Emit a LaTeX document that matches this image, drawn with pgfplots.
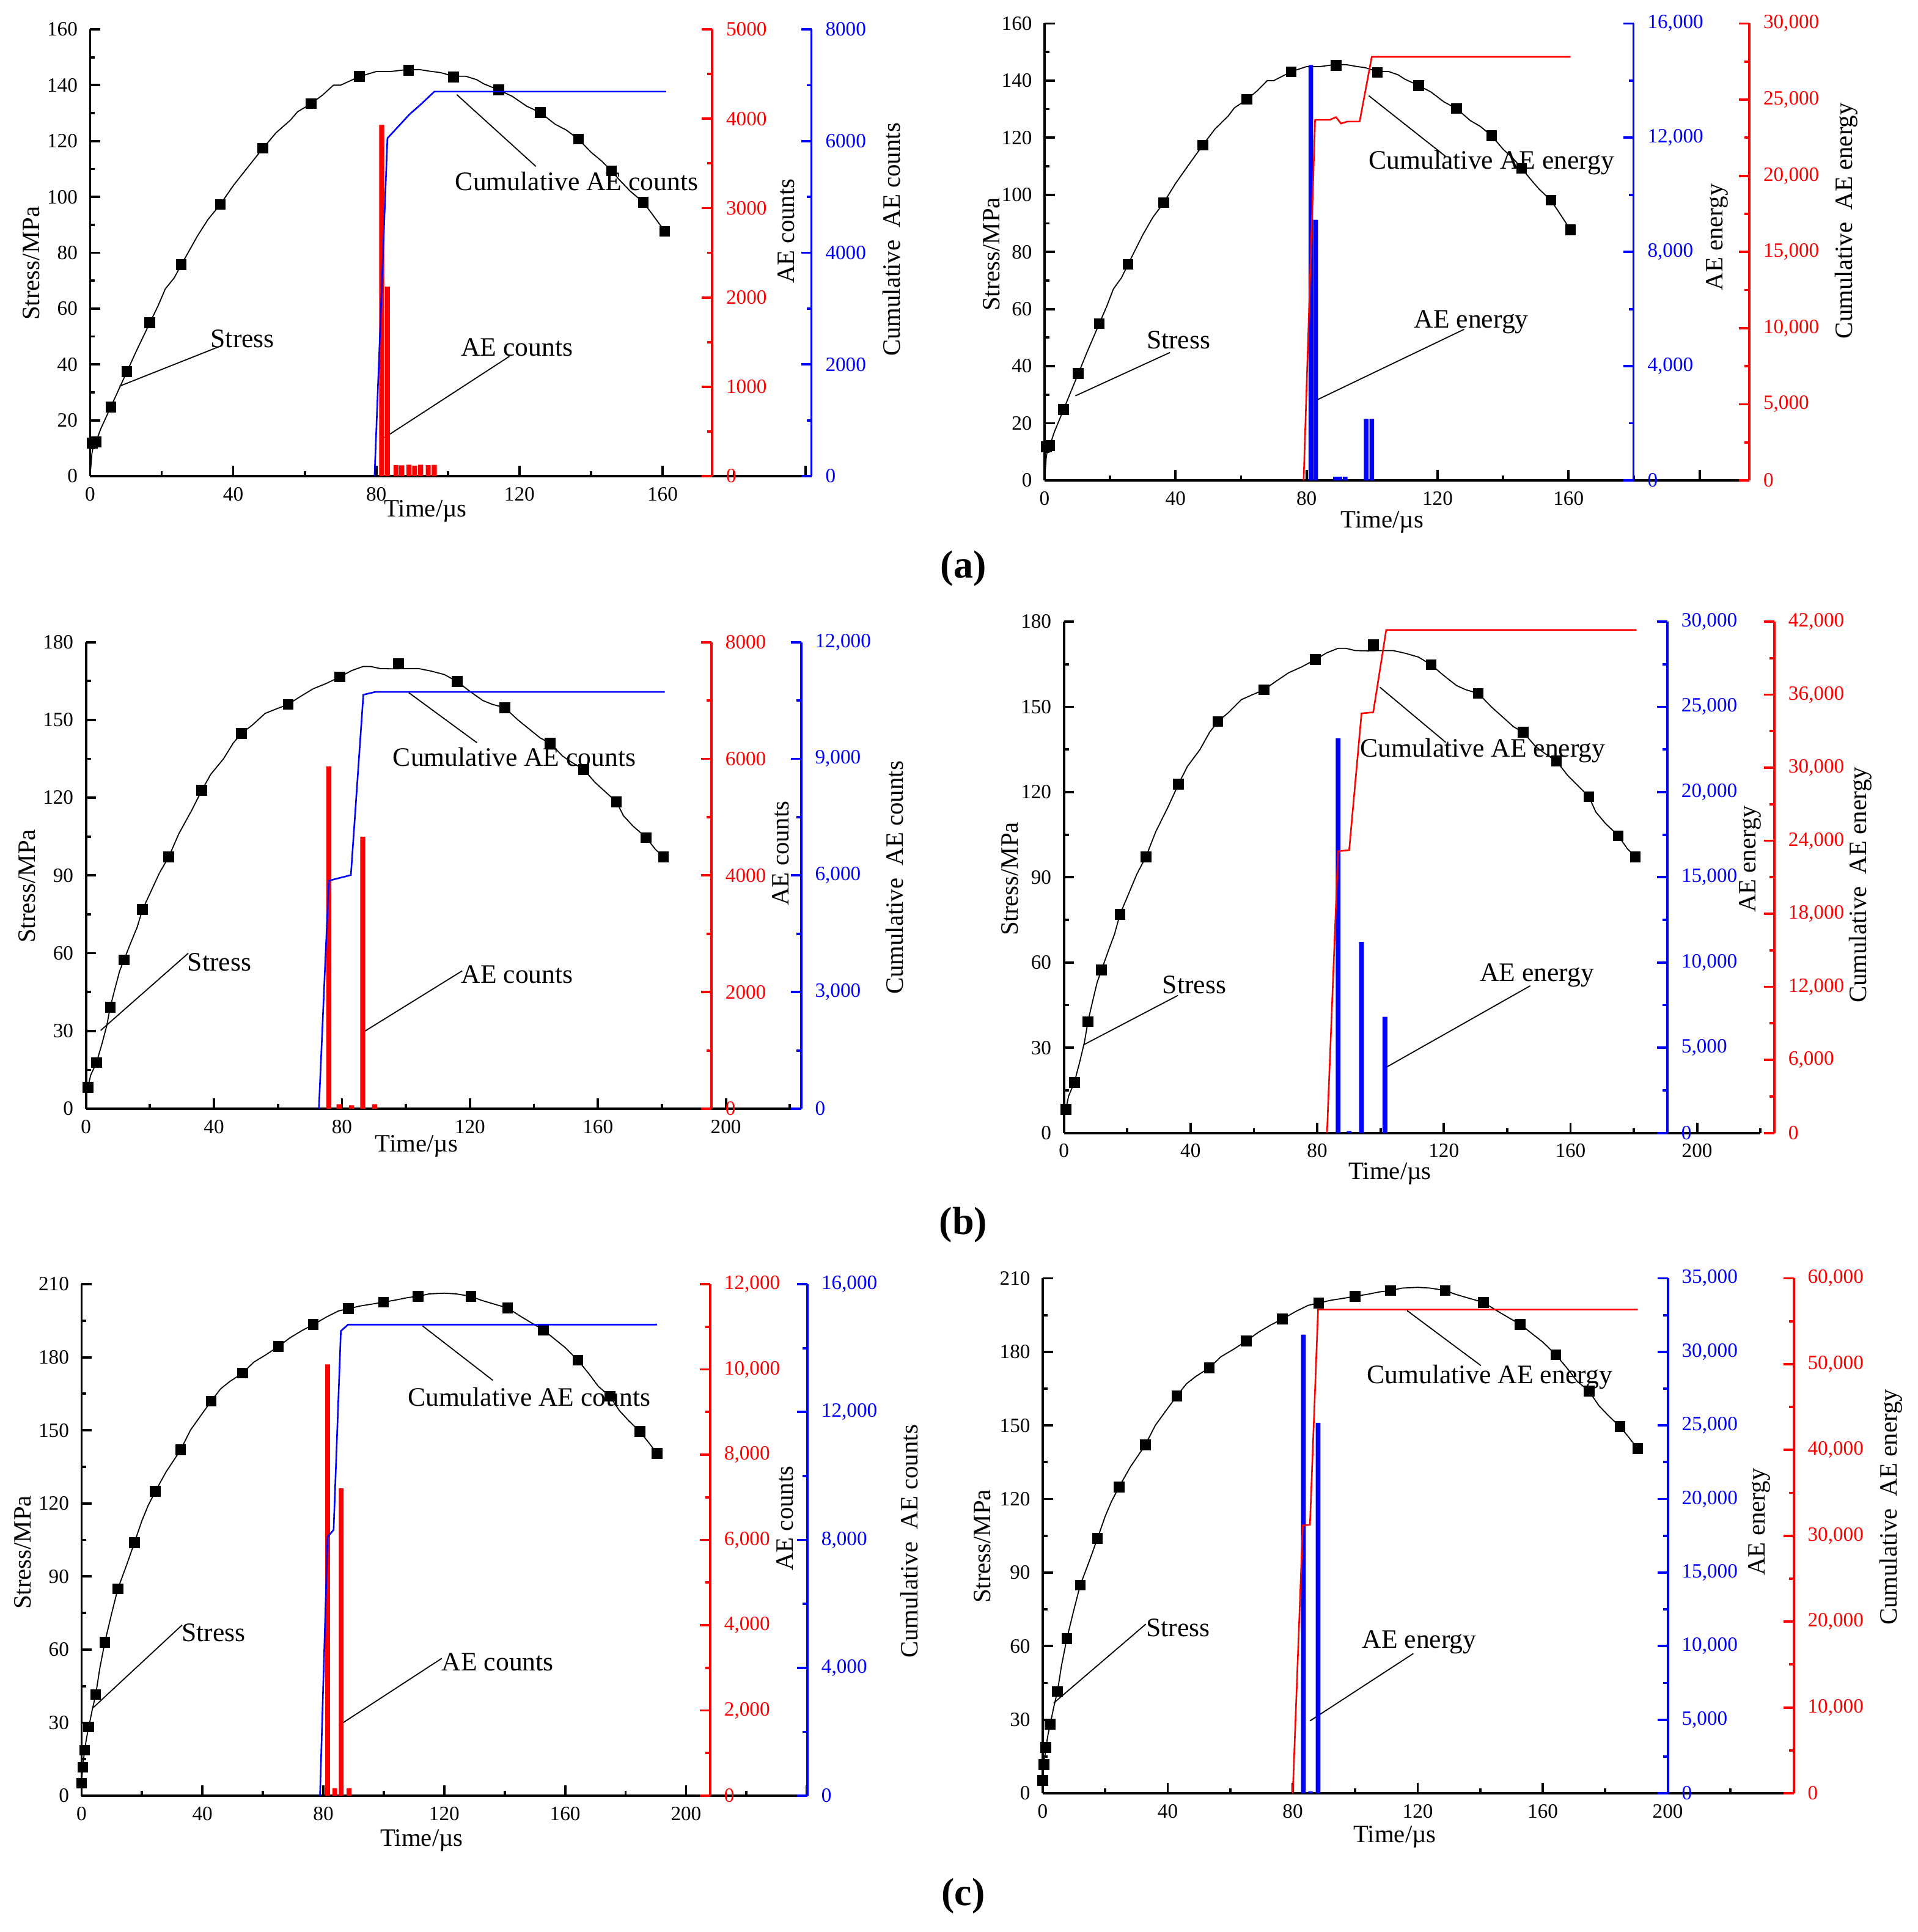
\documentclass[border=0pt]{standalone}
\usepackage{pgfplots}
\pgfplotsset{compat=1.18}
\usepackage{fontspec}
\setmainfont{Liberation Serif}
\newcommand\tf{\fontsize{8.3}{10}\selectfont}
\newcommand\lf{\fontsize{10.2}{12}\selectfont}
\newcommand\nf{\fontsize{10.9}{13}\selectfont}
\pgfplotsset{
  baseax/.style={scale only axis, anchor=south west, xmin=0, ymin=0,
    tick align=inside, major tick length=4.2pt, minor tick length=2pt,
    scaled x ticks=false, scaled y ticks=false,
    /pgf/number format/assume math mode=true,
    tick label style={font=\tf}},
  mainax/.style={baseax, axis x line*=bottom, axis y line*=left,
    axis line style={black, line width=0.95pt},
    every tick/.style={black, line width=0.95pt},
    yticklabel style={xshift=-1.6pt}, xticklabel style={yshift=-1pt},
    minor y tick num=1, clip=false},
  secax/.style={baseax, axis x line=none, axis y line*=right,
    axis line style={#1, line width=0.95pt},
    every tick/.style={#1, line width=0.95pt},
    yticklabel style={#1, xshift=2.2pt}, minor y tick num=1},
  stressline/.style={black, line width=0.45pt, no marks},
  stressmark/.style={only marks, mark=square*, mark size=2pt, black},
  aebars/.style={ybar, bar shift=0pt, fill=#1, draw=none},
  cumline/.style={#1, line width=0.65pt, no marks},
  nosep/.style={/pgf/number format/1000 sep={}},
}
\begin{document}
\begin{tikzpicture}
\path[use as bounding box] (0pt,0pt) rectangle (784.5pt,-790.25pt);

%================ (a) left =================
\begin{axis}[mainax, at={(36.85pt,-194.75pt)}, width=295.04pt, height=182.75pt,
  xmax=201.6, ymax=160, ytick={0,20,...,160},
  xtick={0,40,...,200}, xticklabels={0,40,80,120,160,{}}, minor xtick={20,60,...,180}]
\addplot[stressline] coordinates {(0,0) (0.5,8) (1,11.5) (1.6,12.2) (3,17) (5.8,24.8) (8,31) (10.3,37.4) (13,45) (16.7,54.9) (19,61) (21,67) (23.5,71) (25.5,75.7) (30,86) (33,92) (36.4,97.3) (40,104) (44,110.5) (48.3,117.4) (52,123) (56,127.5) (58,130.5) (61.8,133.4) (65,136.5) (68,140) (70,140) (75.3,143.1) (80,144.9) (84,144.9) (88,145.5) (92,145.6) (95,145) (98,144.5) (101.6,143.2) (105,143.2) (108,142) (110,140.5) (114.2,138.3) (118,136) (122,132.5) (125.8,130.2) (130,126) (133,124) (136.5,120.7) (140,116) (143,112.8) (145.7,109.3) (148,106) (151,102) (154.6,98.1) (157,94) (160.6,87.7)};
\addplot[stressmark] coordinates {(0.6,11.8) (1.6,12.2) (5.8,24.8) (10.3,37.4) (16.7,54.9) (25.5,75.7) (36.4,97.3) (48.3,117.4) (61.8,133.4) (75.3,143.1) (89.0,145.3) (101.6,142.9) (114.2,138.3) (125.8,130.2) (136.5,120.7) (145.7,109.3) (154.6,98.1) (160.6,87.7)};
\draw[line width=0.45pt] (axis cs:8.2,32.2) -- (axis cs:36.9,46.8);
\node[font=\nf, inner sep=0] at (axis cs:42.6,49.2) {Stress};
\draw[line width=0.45pt] (axis cs:117.2,42.9) -- (axis cs:82.3,13.8);
\node[font=\nf, inner sep=0] at (axis cs:119.3,46.2) {AE counts};
\draw[line width=0.45pt] (axis cs:102.5,136.6) -- (axis cs:124.6,110.9);
\node[font=\nf, inner sep=0] at (axis cs:136,105.7) {Cumulative AE counts};
\end{axis}
\begin{axis}[secax=red, nosep, at={(36.85pt,-194.75pt)}, width=254.45pt, height=182.75pt,
  xmax=173.86, ymax=5000, ytick={0,1000,...,5000}]
\addplot[aebars=red, bar width=1.4] coordinates {(81.5,3930) (83.1,2121) (85.5,124) (87.1,120) (89.1,128) (90.7,118) (92.4,127) (94.5,122) (96.2,126)};
\end{axis}
\begin{axis}[secax=blue, nosep, at={(36.85pt,-194.75pt)}, width=295.04pt, height=182.75pt,
  xmax=201.6, ymax=8000, ytick={0,2000,...,8000}]
\addplot[cumline=blue] coordinates {(79.5,0) (83.1,6050) (89.3,6480) (92.6,6667) (96.2,6885) (161,6885)};
\end{axis}

%================ (a) right =================
\begin{axis}[mainax, at={(427.25pt,-196.5pt)}, width=288.26pt, height=186.9pt,
  xmax=215.2, ymax=160, ytick={0,20,...,160},
  xtick={0,40,...,200}, xticklabels={0,40,80,120,160,{}}, minor xtick={20,60,...,180}]
\addplot[stressline] coordinates {(0,0) (0.5,8) (1,11.5) (1.6,12.2) (3,17) (5.8,24.8) (8,31) (10.3,37.4) (13,45) (16.7,54.9) (19,61) (21,67) (23.5,71) (25.5,75.7) (30,86) (33,92) (36.4,97.3) (40,104) (44,110.5) (48.3,117.4) (52,123) (56,127.5) (58,130.5) (61.8,133.4) (65,136.5) (68,140) (70,140) (75.3,143.1) (80,144.9) (84,144.9) (88,145.5) (92,145.6) (95,145) (98,144.5) (101.6,143.2) (105,143.2) (108,142) (110,140.5) (114.2,138.3) (118,136) (122,132.5) (125.8,130.2) (130,126) (133,124) (136.5,120.7) (140,116) (143,112.8) (145.7,109.3) (148,106) (151,102) (154.6,98.1) (157,94) (160.6,87.7)};
\addplot[stressmark] coordinates {(0.6,11.8) (1.6,12.2) (5.8,24.8) (10.3,37.4) (16.7,54.9) (25.5,75.7) (36.4,97.3) (48.3,117.4) (61.8,133.4) (75.3,143.1) (89.0,145.3) (101.6,142.9) (114.2,138.3) (125.8,130.2) (136.5,120.7) (145.7,109.3) (154.6,98.1) (160.6,87.7)};
\draw[line width=0.45pt] (axis cs:9.4,29.6) -- (axis cs:38.3,44.8);
\node[font=\nf, inner sep=0] at (axis cs:40.9,49.1) {Stress};
\draw[line width=0.45pt] (axis cs:82.1,27.6) -- (axis cs:128.1,52.9);
\node[font=\nf, inner sep=0] at (axis cs:130.3,55.5) {AE energy};
\draw[line width=0.45pt] (axis cs:99.0,134.7) -- (axis cs:122.4,113.5);
\node[font=\nf, inner sep=0] at (axis cs:136.5,111.3) {Cumulative AE energy};
\end{axis}
\begin{axis}[secax=blue, at={(427.25pt,-196.5pt)}, width=240.89pt, height=186.9pt,
  xmax=179.84, ymax=16000, ytick={0,4000,...,16000}]
\addplot[aebars=blue, bar width=1.4] coordinates {(81.3,14547) (82.8,9123) (88.8,130) (90.2,130) (91.8,130) (98.2,2154) (99.9,2154)};
\end{axis}
\begin{axis}[secax=red, at={(427.25pt,-196.5pt)}, width=288.26pt, height=186.9pt,
  xmax=215.2, ymax=30000, ytick={0,5000,...,30000}]
\addplot[cumline=red] coordinates {(79.1,0) (82.6,23674) (87.1,23674) (89.0,23850) (90.5,23430) (92.4,23560) (96.2,23560) (99.9,27810) (160.6,27810)};
\end{axis}

%================ (b) left =================
\begin{axis}[mainax, at={(35.15pt,-453.5pt)}, width=292.51pt, height=190.85pt,
  xmax=223.5, ymax=180, ytick={0,30,...,180},
  xtick={0,40,...,200}, minor xtick={20,60,...,220}]
\addplot[stressline] coordinates {(0,5) (0.6,8.3) (1.5,13) (3.3,17.8) (5,25) (6.5,32) (7.6,39.2) (9,46) (10.5,53) (11.9,57.4) (14,64) (16,70) (17.7,76.9) (20,83) (23,91) (25.9,97.2) (29,106) (33,115) (36.2,122.8) (39,129) (43,135) (46,141) (48.6,144.8) (52,148) (56,152.5) (59,154) (63.2,156.0) (67,159) (71,162) (75,164) (79.4,166.6) (83,169) (86.6,170.6) (89,170.6) (92,169.8) (96,169.7) (100,169.8) (104,169.8) (108,168.8) (112,167.5) (116,164.8) (120,161) (124,157.5) (127,156) (130.9,154.7) (135,150) (139,146) (142,143) (145.1,141.0) (149,136) (152,133.5) (155.6,130.9) (159,126) (163,121.5) (165.8,118.4) (168,113) (171,109) (175.1,104.6) (178,100) (180.5,97.2)};
\addplot[stressmark] coordinates {(0.6,8.3) (3.3,17.8) (7.6,39.2) (11.9,57.4) (17.7,76.9) (25.9,97.2) (36.2,122.8) (48.6,144.8) (63.2,156.0) (79.4,166.6) (97.7,171.8) (116.0,164.8) (130.9,154.7) (145.1,141.0) (155.6,130.9) (165.8,118.4) (175.1,104.6) (180.5,97.2)};
\draw[line width=0.45pt] (axis cs:4.6,30.2) -- (axis cs:32.0,60.0);
\node[font=\nf, inner sep=0] at (axis cs:41.7,56.6) {Stress};
\draw[line width=0.45pt] (axis cs:87.0,29.8) -- (axis cs:117.6,53.2);
\node[font=\nf, inner sep=0] at (axis cs:134.8,51.8) {AE counts};
\draw[line width=0.45pt] (axis cs:100.9,160.5) -- (axis cs:122.2,141.2);
\node[font=\nf, inner sep=0] at (axis cs:133.9,135.7) {Cumulative AE counts};
\end{axis}
\begin{axis}[secax=red, nosep, at={(35.15pt,-453.5pt)}, width=255.85pt, height=190.85pt,
  xmax=195.49, ymax=8000, ytick={0,2000,...,8000}]
\addplot[aebars=red, bar width=1.6] coordinates {(75.9,5871) (79.1,78) (83.0,60) (86.5,4662) (90.2,78)};
\end{axis}
\begin{axis}[secax=blue, at={(35.15pt,-453.5pt)}, width=292.51pt, height=190.85pt,
  xmax=223.5, ymax=12000, ytick={0,3000,...,12000}]
\addplot[cumline=blue] coordinates {(72.8,0) (75.9,5865) (82.8,6009) (86.7,10647) (90.4,10719) (180.9,10719)};
\end{axis}

%================ (b) right =================
\begin{axis}[mainax, at={(435.15pt,-463.4pt)}, width=284.9pt, height=209.15pt,
  xmax=220, ymax=180, ytick={0,30,...,180},
  xtick={0,40,...,200}, minor xtick={20,60,...,220}]
\addplot[stressline] coordinates {(0,5) (0.6,8.3) (1.5,13) (3.3,17.8) (5,25) (6.5,32) (7.6,39.2) (9,46) (10.5,53) (11.9,57.4) (14,64) (16,70) (17.7,76.9) (20,83) (23,91) (25.9,97.2) (29,106) (33,115) (36.2,122.8) (39,129) (43,135) (46,141) (48.6,144.8) (52,148) (56,152.5) (59,154) (63.2,156.0) (67,159) (71,162) (75,164) (79.4,166.6) (83,169) (86.6,170.6) (89,170.6) (92,169.8) (96,169.7) (100,169.8) (104,169.8) (108,168.8) (112,167.5) (116,164.8) (120,161) (124,157.5) (127,156) (130.9,154.7) (135,150) (139,146) (142,143) (145.1,141.0) (149,136) (152,133.5) (155.6,130.9) (159,126) (163,121.5) (165.8,118.4) (168,113) (171,109) (175.1,104.6) (178,100) (180.5,97.2)};
\addplot[stressmark] coordinates {(0.6,8.3) (3.3,17.8) (7.6,39.2) (11.9,57.4) (17.7,76.9) (25.9,97.2) (36.2,122.8) (48.6,144.8) (63.2,156.0) (79.4,166.6) (97.7,171.8) (116.0,164.8) (130.9,154.7) (145.1,141.0) (155.6,130.9) (165.8,118.4) (175.1,104.6) (180.5,97.2)};
\draw[line width=0.45pt] (axis cs:6.2,31.0) -- (axis cs:36.0,48.4);
\node[font=\nf, inner sep=0] at (axis cs:41.2,52.1) {Stress};
\draw[line width=0.45pt] (axis cs:102.1,23.3) -- (axis cs:147.3,51.8);
\node[font=\nf, inner sep=0] at (axis cs:149.4,55.4) {AE energy};
\draw[line width=0.45pt] (axis cs:99.8,156.9) -- (axis cs:120.6,137.5);
\node[font=\nf, inner sep=0] at (axis cs:132.3,134.5) {Cumulative AE energy};
\end{axis}
\begin{axis}[secax=blue, at={(435.15pt,-463.4pt)}, width=246.85pt, height=209.15pt,
  xmax=190.62, ymax=30000, ytick={0,5000,...,30000}]
\addplot[aebars=blue, bar width=1.5] coordinates {(86.6,23143) (90.1,110) (94.0,11209) (101.4,6813)};
\end{axis}
\begin{axis}[secax=red, at={(435.15pt,-463.4pt)}, width=290.6pt, height=209.15pt,
  xmax=224.4, ymax=42000, ytick={0,6000,...,42000}]
\addplot[cumline=red] coordinates {(83.1,0) (86.6,23138) (90.1,23230) (94.0,34460) (97.7,34550) (101.8,41320) (180.9,41320)};
\end{axis}

%================ (c) left =================
\begin{axis}[mainax, at={(33.35pt,-734.5pt)}, width=296.9pt, height=209.25pt,
  xmax=240.16, ymax=210, ytick={0,30,...,210},
  xtick={0,40,...,240}, xticklabels={0,40,80,120,160,200,{}}, minor xtick={20,60,...,220}]
\addplot[stressline] coordinates {(0,0) (0,5.2) (0.4,11.7) (1.0,18.7) (1.7,24) (2.4,28.2) (3.5,35) (4.7,41.5) (6,52) (7.7,63.0) (10,75) (12.0,84.9) (15,95) (17.5,103.9) (20,113) (22,119) (24.4,124.9) (28,133) (32.8,142.0) (36,150) (40,157) (42.9,162.0) (46,167) (49,170) (53.3,173.5) (57,178) (61,181) (65.1,184.4) (69,188) (73,191) (76.7,193.4) (81,196.5) (85,199) (88.3,199.9) (92,201) (96,201.8) (99.9,202.6) (104,203.5) (108,204.5) (111.3,205.0) (115,206) (120,206.3) (124,206) (128.8,205.0) (132,203.5) (136,202) (141.0,200.2) (145,197) (149,194) (152.8,191.2) (156,188) (160,184) (164.2,178.8) (168,173) (171,168) (174.8,164.0) (178,158) (181,154) (184.7,149.5) (187,146) (190.4,140.5)};
\addplot[stressmark] coordinates {(0,5.2) (0.4,11.7) (1.0,18.7) (2.4,28.2) (4.7,41.5) (7.7,63.0) (12.0,84.9) (17.5,103.9) (24.4,124.9) (32.8,142.0) (42.9,162.0) (53.3,173.5) (65.1,184.4) (76.7,193.4) (88.3,199.9) (99.9,202.6) (111.3,205.0) (128.8,205.0) (141.0,200.2) (152.8,191.2) (164.2,178.8) (174.8,164.0) (184.7,149.5) (190.4,140.5)};
\draw[line width=0.45pt] (axis cs:3.8,36.1) -- (axis cs:33.3,70.1);
\node[font=\nf, inner sep=0] at (axis cs:43.7,66.9) {Stress};
\draw[line width=0.45pt] (axis cs:85.2,28.9) -- (axis cs:119.2,56.4);
\node[font=\nf, inner sep=0] at (axis cs:137.7,54.9) {AE counts};
\draw[line width=0.45pt] (axis cs:112.8,192.9) -- (axis cs:136.1,170.5);
\node[font=\nf, inner sep=0] at (axis cs:148.1,163.6) {Cumulative AE counts};
\end{axis}
\begin{axis}[secax=red, at={(33.35pt,-734.5pt)}, width=257.14pt, height=209.25pt,
  xmax=208, ymax=12000, ytick={0,2000,...,12000}]
\addplot[aebars=red, bar width=1.55] coordinates {(81.4,10117) (83.8,179) (85.9,7210) (88.5,179)};
\end{axis}
\begin{axis}[secax=blue, at={(33.35pt,-734.5pt)}, width=296.9pt, height=209.25pt,
  xmax=240.16, ymax=16000, ytick={0,4000,...,16000}]
\addplot[cumline=blue] coordinates {(78.9,0) (81.4,8094) (83.4,8314) (85.8,14536) (88.2,14734) (190.4,14734)};
\end{axis}

%================ (c) right =================
\begin{axis}[mainax, at={(426.5pt,-733.5pt)}, width=307.16pt, height=210.65pt,
  xmax=240.3, ymax=210, ytick={0,30,...,210},
  xtick={0,40,...,200}, minor xtick={20,60,...,220}]
\addplot[stressline] coordinates {(0,0) (0,5.2) (0.4,11.7) (1.0,18.7) (1.7,24) (2.4,28.2) (3.5,35) (4.7,41.5) (6,52) (7.7,63.0) (10,75) (12.0,84.9) (15,95) (17.5,103.9) (20,113) (22,119) (24.4,124.9) (28,133) (32.8,142.0) (36,150) (40,157) (42.9,162.0) (46,167) (49,170) (53.3,173.5) (57,178) (61,181) (65.1,184.4) (69,188) (73,191) (76.7,193.4) (81,196.5) (85,199) (88.3,199.9) (92,201) (96,201.8) (99.9,202.6) (104,203.5) (108,204.5) (111.3,205.0) (115,206) (120,206.3) (124,206) (128.8,205.0) (132,203.5) (136,202) (141.0,200.2) (145,197) (149,194) (152.8,191.2) (156,188) (160,184) (164.2,178.8) (168,173) (171,168) (174.8,164.0) (178,158) (181,154) (184.7,149.5) (187,146) (190.4,140.5)};
\addplot[stressmark] coordinates {(0,5.2) (0.4,11.7) (1.0,18.7) (2.4,28.2) (4.7,41.5) (7.7,63.0) (12.0,84.9) (17.5,103.9) (24.4,124.9) (32.8,142.0) (42.9,162.0) (53.3,173.5) (65.1,184.4) (76.7,193.4) (88.3,199.9) (99.9,202.6) (111.3,205.0) (128.8,205.0) (141.0,200.2) (152.8,191.2) (164.2,178.8) (174.8,164.0) (184.7,149.5) (190.4,140.5)};
\draw[line width=0.45pt] (axis cs:3.5,36.8) -- (axis cs:33.0,69.0);
\node[font=\nf, inner sep=0] at (axis cs:43.3,67.5) {Stress};
\draw[line width=0.45pt] (axis cs:85.5,29.5) -- (axis cs:118.6,57.0);
\node[font=\nf, inner sep=0] at (axis cs:120.5,61.5) {AE energy};
\draw[line width=0.45pt] (axis cs:116.6,196.8) -- (axis cs:140.2,174.4);
\node[font=\nf, inner sep=0] at (axis cs:143.0,169.8) {Cumulative AE energy};
\end{axis}
\begin{axis}[secax=blue, at={(426.5pt,-733.5pt)}, width=255.65pt, height=210.65pt,
  xmax=200, ymax=35000, ytick={0,5000,...,35000}]
\addplot[aebars=blue, bar width=1.5] coordinates {(83.4,31175) (85.7,125) (88.1,25175)};
\end{axis}
\begin{axis}[secax=red, at={(426.5pt,-733.5pt)}, width=307.16pt, height=210.65pt,
  xmax=240.3, ymax=60000, ytick={0,10000,...,60000}]
\addplot[cumline=red] coordinates {(80.0,0) (83.2,31200) (85.5,31286) (88.1,56357) (190.4,56357)};
\end{axis}

%================ labels =================
\begin{scope}[x=0.5pt,y=-0.5pt]
\node[font=\lf, rotate=90] at (25.8,215.4) {Stress/MPa};
\node[font=\lf, rotate=90] at (811,208) {Stress/MPa};
\node[font=\lf, rotate=90] at (22,725) {Stress/MPa};
\node[font=\lf, rotate=90] at (826,719) {Stress/MPa};
\node[font=\lf, rotate=90] at (18.7,1270) {Stress/MPa};
\node[font=\lf, rotate=90] at (803.5,1265) {Stress/MPa};
\node[font=\lf] at (348,418) {Time/µs};
\node[font=\lf] at (1130.7,427) {Time/µs};
\node[font=\lf] at (340.7,937.7) {Time/µs};
\node[font=\lf] at (1137,960) {Time/µs};
\node[font=\lf] at (345,1505.5) {Time/µs};
\node[font=\lf] at (1141,1502.5) {Time/µs};
\node[font=\lf, rotate=90] at (643.2,189) {AE counts};
\node[font=\lf, rotate=90] at (729.3,196) {Cumulative~~AE counts};
\node[font=\lf, rotate=90] at (1404.7,194) {AE energy};
\node[font=\lf, rotate=90] at (1510.3,180.6) {Cumulative~~AE energy};
\node[font=\lf, rotate=90] at (638.8,698) {AE counts};
\node[font=\lf, rotate=90] at (732,718) {Cumulative~~AE counts};
\node[font=\lf, rotate=90] at (1431.6,702.7) {AE energy};
\node[font=\lf, rotate=90] at (1522,724) {Cumulative~~AE energy};
\node[font=\lf, rotate=90] at (642,1242) {AE counts};
\node[font=\lf, rotate=90] at (744,1261) {Cumulative~~AE counts};
\node[font=\lf, rotate=90] at (1439,1245) {AE energy};
\node[font=\lf, rotate=90] at (1547,1233) {Cumulative~~AE energy};
\node[font=\fontsize{16}{18}\selectfont\bfseries] at (788,465) {(a)};
\node[font=\fontsize{16}{18}\selectfont\bfseries] at (788,1002) {(b)};
\node[font=\fontsize{16}{18}\selectfont\bfseries] at (788,1551) {(c)};
\end{scope}
\end{tikzpicture}
\end{document}
